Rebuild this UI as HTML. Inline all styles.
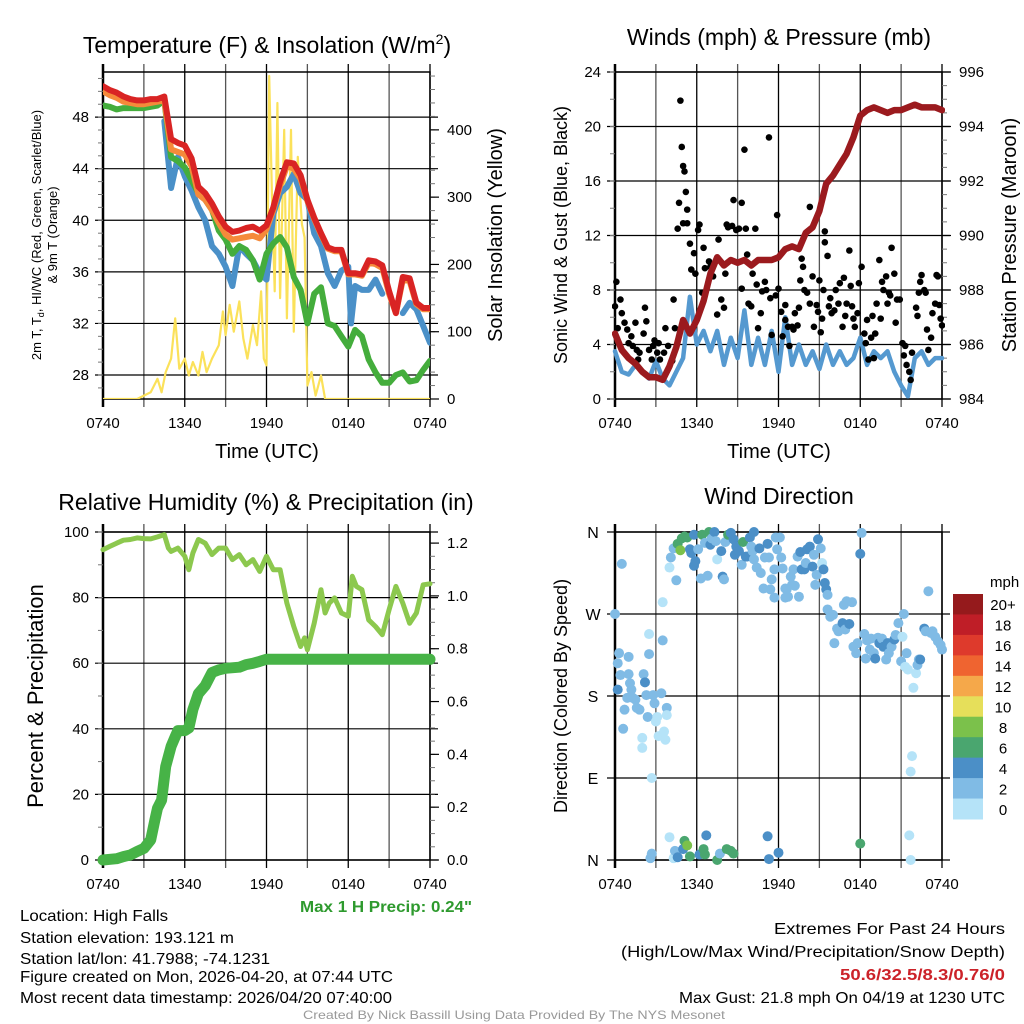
<!DOCTYPE html>
<html><head><meta charset="utf-8"><style>
html,body{margin:0;padding:0;background:#fff;}
svg{display:block;font-family:"Liberation Sans",Arial,sans-serif;}
</style></head><body>
<svg id="c" width="1024" height="1024" viewBox="0 0 1024 1024">
<g fill="#000">
<text x="267" y="53" font-size="23" text-anchor="middle">Temperature (F) &amp; Insolation (W/m<tspan font-size="14" dy="-9">2</tspan><tspan dy="9">)</tspan></text>
<text x="779" y="45" font-size="23" text-anchor="middle">Winds (mph) &amp; Pressure (mb)</text>
<text x="266" y="510" font-size="23" text-anchor="middle">Relative Humidity (%) &amp; Precipitation (in)</text>
<text x="779" y="504" font-size="23" text-anchor="middle">Wind Direction</text>
<text transform="translate(41,235) rotate(-90)" font-size="13" text-anchor="middle">2m T, T<tspan font-size="9" dy="3">d</tspan><tspan dy="-3">, HI/WC (Red, Green, Scarlet/Blue)</tspan></text>
<text transform="translate(57,235) rotate(-90)" font-size="13" text-anchor="middle">&amp; 9m T (Orange)</text>
<text transform="translate(502,235) rotate(-90)" font-size="20" text-anchor="middle">Solar Insolation (Yellow)</text>
<text x="267" y="458" font-size="20" text-anchor="middle">Time (UTC)</text>
<text transform="translate(567,235) rotate(-90)" font-size="18" text-anchor="middle">Sonic Wind &amp; Gust (Blue, Black)</text>
<text transform="translate(1016,235) rotate(-90)" font-size="20" text-anchor="middle">Station Pressure (Maroon)</text>
<text x="779" y="458" font-size="20" text-anchor="middle">Time (UTC)</text>
<text transform="translate(43,696) rotate(-90)" font-size="22" text-anchor="middle">Percent &amp; Precipitation</text>
<text transform="translate(567,696) rotate(-90)" font-size="18" text-anchor="middle">Direction (Colored By Speed)</text>
</g>
<g font-size="16" fill="#000">
<text x="300" y="912" fill="#2e9a2e" font-weight="bold" textLength="172" lengthAdjust="spacingAndGlyphs">Max 1 H Precip: 0.24"</text>
<text x="20" y="921" textLength="148" lengthAdjust="spacingAndGlyphs">Location: High Falls</text>
<text x="20" y="943" textLength="214" lengthAdjust="spacingAndGlyphs">Station elevation: 193.121 m</text>
<text x="20" y="964" textLength="250" lengthAdjust="spacingAndGlyphs">Station lat/lon: 41.7988; -74.1231</text>
<text x="20" y="982" textLength="373" lengthAdjust="spacingAndGlyphs">Figure created on Mon, 2026-04-20, at 07:44 UTC</text>
<text x="20" y="1003" textLength="372" lengthAdjust="spacingAndGlyphs">Most recent data timestamp: 2026/04/20 07:40:00</text>
<text x="774" y="934" textLength="231" lengthAdjust="spacingAndGlyphs">Extremes For Past 24 Hours</text>
<text x="621" y="957" textLength="384" lengthAdjust="spacingAndGlyphs">(High/Low/Max Wind/Precipitation/Snow Depth)</text>
<text x="840" y="980" fill="#cc2229" font-weight="bold" textLength="165" lengthAdjust="spacingAndGlyphs">50.6/32.5/8.3/0.76/0</text>
<text x="679" y="1003" textLength="326" lengthAdjust="spacingAndGlyphs">Max Gust: 21.8 mph On 04/19 at 1230 UTC</text>
<text x="303" y="1019" font-size="12" fill="#999" textLength="422" lengthAdjust="spacingAndGlyphs">Created By Nick Bassill Using Data Provided By The NYS Mesonet</text>
</g>
</svg>
<script>
// ---------- DATA ----------
const hours = [0,0.5,1,1.5,2,2.5,3,3.5,4,4.5,5,5.5,6,6.5,7,7.5,8,8.5,9,9.5,10,10.5,11,11.5,12,12.5,13,13.5,14,14.5,15,15.5,16,16.5,17,17.5,18,18.5,19,19.5,20,20.5,21,21.5,22,22.5,23,23.5,24];
const xTickLabels = ["0740","1340","1940","0140","0740"];
const tempRed = [50.4,50.1,49.9,49.6,49.4,49.3,49.3,49.4,49.4,49.6,46.3,46.0,45.8,44.8,42.6,42.1,41.3,40.3,39.5,39.1,39.2,39.4,39.5,39.2,39.6,41.0,43.0,44.5,44.4,43.5,41.6,40.2,39.0,37.9,37.7,37.7,35.9,35.9,35.8,36.9,36.8,36.5,34.5,32.8,35.6,35.5,33.6,33.2,33.2];
const tempOrange = [50.0,49.7,49.5,49.2,49.1,49.0,49.0,49.1,49.2,49.3,45.5,45.3,45.1,44.2,42.0,41.6,40.8,39.8,38.9,38.5,38.6,38.7,38.8,38.6,39.3,40.8,42.7,44.2,44.0,43.2,41.5,40.1,38.9,37.8,37.6,37.6,35.8,35.8,35.7,36.7,36.6,36.3,34.3,32.8,35.4,35.3,33.5,33.1,33.1];
const dewGreen = [48.9,48.8,48.6,48.7,48.7,48.7,48.7,48.8,48.9,49.3,44.9,44.6,44.1,43.1,42.1,41.6,40.8,39.2,38.5,37.4,38.0,37.7,36.9,35.4,37.4,38.2,38.7,37.9,35.6,34.6,32.0,34.3,34.8,32.0,31.8,31.0,30.2,31.5,31.0,29.2,28.2,27.4,27.4,28.0,28.2,27.5,27.6,28.4,29.1];
const chillHours = [4.5,5,5.5,6,6.5,7,7.5,8,8.5,9,9.5,10,10.5,11,11.5,12,12.5,13,13.5,14,14.5,15,15.5,16,16.5,17,17.5,18,18.2,18.5,19,19.5,20,20.5];
const chillBlue = [47.7,42.5,44.9,43.4,42.3,41.0,40.0,38.0,37.4,36.4,34.9,38.0,37.4,36.9,35.9,35.4,40.5,42.1,42.6,43.6,42.1,41.6,39.0,38.0,35.9,34.9,36.1,36.4,32.0,34.9,34.6,34.6,35.4,34.3];
const chillHours2 = [22,22.5,23,23.5,24];
const chillBlue2 = [32.8,33.6,33.1,31.8,30.5];
const solarHours = [0,1,2,2.5,3,3.5,4,4.3,4.6,5,5.3,5.6,6,6.3,6.6,7,7.3,7.6,8,8.5,8.8,9,9.3,9.6,10,10.3,10.6,11,11.3,11.6,11.8,12,12.2,12.4,12.6,12.8,13,13.3,13.5,13.8,14,14.3,14.6,14.8,15,15.3,15.6,16,16.3,18,21,24];
const solarValues = [0,0,0,0,5,10,30,10,40,60,120,45,60,35,55,35,70,40,60,80,130,95,140,100,145,90,60,110,80,160,60,50,480,300,160,440,150,400,120,400,100,360,260,240,20,40,5,35,0,0,0,0];
const windSonic = [3.5,2,1.8,2.5,2,1.5,2.8,1.5,1,2,3,7.5,4,5,3.5,5,2.5,4.5,3,6.5,2.5,4.5,2.5,5,2,6,2.5,4,2.5,3.5,2.2,4,2.5,3.5,2.5,3,4.5,2.5,3.5,3,3.5,2,1,0.2,3,3.5,2.5,3,3];
const pressure = [986.4,985.8,985.5,985.3,985.0,984.8,984.8,984.7,985.2,985.9,986.9,986.4,986.9,987.6,988.6,989.2,988.9,989.1,989.0,989.1,988.9,989.1,989.1,989.1,989.2,989.5,989.6,989.5,990.1,990.3,990.9,991.9,992.2,992.6,993.0,993.6,994.4,994.6,994.7,994.6,994.5,994.6,994.6,994.7,994.8,994.7,994.7,994.7,994.6];
const gustHours = [0.1,0,0.4,0.2,0.5,0.7,0.9,1,1.2,1.3,1.5,1.6,1.7,1.8,2.1,2.2,2.3,2.5,2.7,2.8,2.9,3.1,3.2,3.3,3.6,3.7,3.9,4.2,4.3,4.4,4.6,4.7,4.8,4.9,5.0,5.1,5.2,5.0,5.3,5.3,5.5,5.6,5.8,5.9,6.1,6.2,6.4,6.5,6.6,6.9,7.0,7.2,7.5,7.6,7.8,8.0,8.1,8.2,8.3,8.6,8.7,8.9,9.1,9.3,9.3,9.5,9.6,9.7,9.8,10.0,10.1,10.3,10.4,10.5,10.7,10.8,11.0,11.1,11.3,11.4,11.5,11.8,11.9,12.0,12.2,12.3,12.5,12.5,12.7,12.8,13.0,13.1,13.2,13.4,13.5,13.6,13.7,13.8,13.9,14.1,14.3,14.3,14.5,14.6,14.8,14.9,15.0,15.1,15.2,15.3,15.4,15.4,15.6,15.7,15.8,15.9,16.1,16.2,16.4,16.5,16.7,16.8,16.9,17.0,17.2,17.3,17.4,17.5,17.6,17.8,17.9,18.1,18.3,18.4,18.5,18.6,18.8,18.9,19.0,19.1,19.2,19.4,19.5,19.6,19.7,19.9,20.0,20.1,20.2,20.3,20.5,20.6,20.7,20.9,21.1,21.2,21.3,21.4,21.6,21.7,21.8,22.1,22.2,22.3,22.4,22.5,22.7,22.8,22.9,23.0,23.2,23.3,23.5,23.6,23.7,23.8,23.9,24.0];
const gustValues = [8.6,6.8,7.3,5.2,6.3,5.6,5.1,4.1,4.6,3.9,5.6,3.6,2.9,3.4,4.8,6.7,5.7,3.6,2.9,3.9,4.3,3.4,4.1,2.9,3.4,5.2,3.9,2.8,7.3,5.2,12.5,14.4,21.9,18.5,17.1,16.7,15.2,12.9,12.9,13.9,11.4,9.5,10.7,9.2,12.4,12.8,7.8,11.1,9.6,10.1,9.7,9.0,6.2,11.7,7.3,6.7,9.2,12.8,12.6,12.7,14.6,12.4,12.5,8.1,14.4,18.3,12.5,10.6,7.0,6.8,9.2,12.5,8.4,5.2,6.3,7.9,8.6,8.0,19.2,7.4,4.7,7.6,13.5,8.1,6.4,4.6,5.8,6.9,5.3,3.9,5.3,5.1,6.3,5.4,6.7,8.7,10.3,9.7,8.0,7.8,14.1,7.0,9.0,5.3,6.9,6.4,8.7,4.9,5.9,8.0,12.3,11.5,10.5,6.8,7.4,6.3,6.5,8.0,7.0,8.5,5.3,8.9,6.1,7.0,10.9,8.3,6.8,5.9,5.3,6.3,8.5,9.7,4.8,4.1,5.8,2.9,4.5,6.1,3.0,4.8,7.0,10.2,5.9,8.6,8.0,9.0,7.0,7.8,7.6,11.1,9.2,5.6,7.3,7.3,4.1,3.2,3.9,2.5,2.0,1.4,3.4,6.7,6.1,7.8,8.6,9.1,8.0,7.8,5.1,3.6,4.5,6.3,7.0,9.1,9.0,6.9,5.9,5.4];
const rhHours = [0,0.5,1,1.5,2,2.5,3,3.5,4,4.5,4.8,5,5.5,6,6.3,6.6,7,7.5,8,8.5,9,9.5,10,10.5,11,11.5,12,12.5,13,13.5,14,14.5,14.8,15,15.5,16,16.3,16.6,17,17.5,18,18.3,18.6,19,19.5,20,20.5,21,21.5,22,22.5,23,23.5,24];
const rhValues = [94.6,95.6,96.6,97.5,97.7,98.2,98.0,97.9,98.5,99.2,95.1,94.1,95.1,92.6,88.5,93.6,97.7,96.6,93.1,95.1,95.1,91.6,93.1,90.0,91.6,88.0,92.6,88.5,88.5,78.3,71.2,65.1,67.7,64.1,72.2,82.4,75.3,78.3,79.9,75.3,74.3,86.5,83.4,82.4,73.2,71.2,68.7,76.3,83.4,78.3,72.2,75.3,83.9,84.2];
const precipHours = [0,1,1.5,2,2.5,3,3.5,3.8,4,4.3,4.6,5,5.3,5.5,6,6.3,6.6,7,7.5,8,8.5,9,10,10.5,11,11.5,12,18,24];
const precipValues = [0,0.005,0.013,0.019,0.032,0.044,0.076,0.15,0.196,0.227,0.354,0.43,0.467,0.49,0.49,0.5,0.57,0.63,0.66,0.71,0.72,0.726,0.73,0.74,0.745,0.752,0.76,0.76,0.76];
const dirHours = [0,0.5,0.2,0.2,0.3,0.4,0.6,0.7,0.9,1.0,1.0,1.1,1.2,1.3,1.5,1.6,1.8,2.0,2.0,2.1,2.2,2.3,2.4,2.5,2.5,2.7,2.8,2.9,3.0,3.1,3.2,3.4,3.5,3.5,3.6,3.7,3.8,3.8,4.0,4.1,4.3,4.5,4.6,4.8,4.9,5.1,5.3,5.5,5.6,5.8,5.8,5.9,6.1,6.3,6.4,6.6,6.8,6.9,7.0,7.1,7.3,7.4,7.5,7.8,7.9,8.0,8.1,8.3,8.5,8.7,8.8,8.9,9.1,9.3,9.4,9.6,9.7,9.9,10.0,10.1,10.2,10.2,10.4,10.6,10.7,10.9,11.0,11.2,11.3,11.4,11.5,11.7,11.7,11.8,11.9,12.1,12.2,12.3,12.5,12.5,12.6,12.7,12.9,13.0,13.1,13.2,13.4,13.5,13.6,13.7,13.9,14.0,14.1,14.3,14.5,14.6,14.7,14.8,14.9,15.1,15.2,15.3,15.4,15.5,15.6,15.6,15.8,16.0,16.1,16.3,16.4,16.7,16.8,16.9,17.0,17.2,17.4,17.5,17.7,17.8,18.0,18.1,18.3,18.4,18.5,18.7,18.8,19.0,19.1,19.3,19.4,19.6,19.7,19.9,20.0,20.1,20.3,20.5,20.6,20.8,21.0,21.1,21.2,21.3,21.4,21.5,21.7,21.6,21.7,21.8,21.9,22.1,22.2,22.3,22.4,22.7,22.8,23.0,23.2,23.3,23.5,23.7,23.9,24.0,2.7,2.6,4.0,4.3,4.4,4.6,5.0,5.1,5.3,5.5,6.2,6.5,6.6,6.7,7.5,7.7,8.2,8.5,8.7,11.2,11.3,12.0,18.0];
const dirDegrees = [270,325,187,216,227,203,144,165,178,223,204,194,187,178,176,167,165,134,123,204,195,181,157,226,248,90,181,172,152,157,136,183,241,283,141,132,167,159,321,332,342,307,347,340,353,355,354,341,337,323,357,328,341,309,357,348,312,360,346,353,360,350,330,339,311,308,349,357,359,352,335,344,339,324,349,333,333,354,344,339,330,360,321,342,315,298,332,347,332,297,308,319,288,354,341,354,332,320,298,288,297,289,311,302,319,301,333,289,338,319,319,326,341,344,322,335,302,313,352,342,326,319,304,297,291,275,267,269,238,254,251,260,280,253,284,259,283,234,227,238,336,359,248,221,241,231,243,227,221,244,238,243,234,220,238,227,234,242,247,260,218,245,270,212,227,209,0,27,97,114,189,205,214,220,220,254,251,295,249,251,245,240,236,231,7,2,25,2,10,3,12,21,16,4,6,12,6,27,0,7,12,10,7,26,1,8,18];
const dirSpeeds = [2,2,4,2,2,2,2,2,2,2,2,2,2,2,2,2,2,0,0,2,4,2,2,2,0,0,2,2,0,0,0,2,2,0,0,0,2,0,0,2,2,2,6,8,6,6,6,4,4,4,4,4,2,2,6,2,2,6,4,2,4,2,0,4,4,2,2,6,4,4,4,4,4,2,6,4,4,4,2,2,2,4,2,4,2,2,2,4,2,2,2,2,2,2,2,2,2,2,2,2,2,2,2,2,2,2,2,2,4,4,4,2,4,4,4,2,2,2,4,2,0,4,4,4,2,2,2,2,2,2,2,4,2,2,2,4,2,2,2,2,4,2,2,2,2,2,2,2,4,2,4,2,4,2,4,2,2,4,2,2,2,0,2,0,2,0,0,0,0,0,0,0,2,2,4,4,2,2,2,2,2,2,2,2,2,2,0,0,2,4,4,6,8,6,4,6,6,4,6,2,6,6,6,4,4,4,6,6];
const speedBins = [0,2,4,6,8,10,12,14,16,18,20];
const speedLabels = ["0","2","4","6","8","10","12","14","16","18","20+"];
const speedColors = ["#b5e3f8","#80bbe5","#4b8fc7","#4aa66f","#7bc14b","#e6df5a","#f5a84a","#ef6430","#de3a2c","#bf1e27","#951a1c"];

// ---------- HELPERS ----------
const svg = document.getElementById('c');
const NS = 'http://www.w3.org/2000/svg';
function mk(tag, attrs, parent){ const e=document.createElementNS(NS,tag); for(const k in attrs) e.setAttribute(k,attrs[k]); (parent||svg).appendChild(e); return e; }
function panel(L,R,T,B){ return {L,R,T,B, x:h=>L+h/24*(R-L)}; }
function yScale(p,min,max){ return v=>p.B-(v-min)/(max-min)*(p.B-p.T); }
function linePath(xs,ys,fx,fy){ return xs.map((h,i)=>(i?'L':'M')+fx(h).toFixed(1)+','+fy(ys[i]).toFixed(1)).join(''); }

function frame(p, g, hLines){
  for(let h=0;h<=24;h+=3){
    const l=mk('line',{x1:p.x(h),x2:p.x(h),y1:p.T-8,y2:p.B+8,stroke:(h%6===0?'#000':'#555'),'stroke-width':1.3},g);
    
    
  }
  hLines.forEach(y=>{
    const l=mk('line',{x1:p.L-8,x2:p.R+8,y1:y,y2:y,stroke:'#000','stroke-width':1.2},g);
    
    
  });
  const r=mk('rect',{x:p.L,y:p.T,width:p.R-p.L,height:p.B-p.T,fill:'none',stroke:'#000','stroke-width':1.5},g);
  
  
  mk('line',{x1:p.L,x2:p.L,y1:p.T-8,y2:p.B+8,stroke:'#000','stroke-width':2.5},g);
  xTickLabels.forEach((t,i)=>{
    const tx=mk('text',{x:p.x(i*6),y:p.B+29,'font-size':15,'text-anchor':'middle'},g);
    
    
    tx.textContent=t;
  });
}
function leftTicks(p,g,vals,fy,fmt,minor){
  minor.forEach(v=>mk('line',{x1:p.L-5,x2:p.L,y1:fy(v),y2:fy(v),stroke:'#777','stroke-width':1},g));
  vals.forEach(v=>{
    const t=mk('text',{x:p.L-14,y:fy(v)+5,'font-size':15,'text-anchor':'end'},g);
    
    
    t.textContent=fmt(v);
  });
}
function rightTicks(p,g,vals,fy,fmt,minor){
  minor.forEach(v=>mk('line',{x1:p.R,x2:p.R+5,y1:fy(v),y2:fy(v),stroke:'#777','stroke-width':1},g));
  vals.forEach(v=>{
    mk('line',{x1:p.R,x2:p.R+9,y1:fy(v),y2:fy(v),stroke:'#000','stroke-width':1.2},g);
    const t=mk('text',{x:p.R+17,y:fy(v)+5,'font-size':15},g);
    
    
    t.textContent=fmt(v);
  });
}
function range(a,b,s){ const r=[]; for(let v=a; v<=b+1e-9; v+=s) r.push(+v.toFixed(4)); return r; }

// ---------- PANEL 1: Temperature ----------
(function(){
  const p=panel(103,430,72,399);
  const g=mk('g',{});
  
  
  const fy=yScale(p,26.14,51.5), fr=yScale(p,0,486);
  const clip=mk('clipPath',{id:'cp1'},g); mk('rect',{x:p.L,y:p.T,width:p.R-p.L,height:p.B-p.T},clip);
  frame(p,g,range(28,48,4).map(fy));
  leftTicks(p,g,range(28,48,4),fy,v=>v,range(27,51,1));
  rightTicks(p,g,range(0,400,100),fr,v=>v,range(0,480,20));
  const d=mk('g',{'clip-path':'url(#cp1)',fill:'none','stroke-linejoin':'round','stroke-linecap':'round'},g);
  const sol=mk('path',{d:linePath(solarHours,solarValues,p.x,fr),stroke:'#fbe15a','stroke-width':2.2},d);
   
  const c1=mk('path',{d:linePath(chillHours,chillBlue,p.x,fy),stroke:'#4a90c8','stroke-width':6},d);
   
  const c2=mk('path',{d:linePath(chillHours2,chillBlue2,p.x,fy),stroke:'#4a90c8','stroke-width':6},d);
   
  const gr=mk('path',{d:linePath(hours,dewGreen,p.x,fy),stroke:'#44ad3c','stroke-width':6},d);
   
  const o=mk('path',{d:linePath(hours,tempOrange,p.x,fy),stroke:'#f58a3a','stroke-width':6},d);
   
  const r=mk('path',{d:linePath(hours,tempRed,p.x,fy),stroke:'#d92424','stroke-width':6},d);
   
})();

// ---------- PANEL 2: Wind & Pressure ----------
(function(){
  const p=panel(615,942,72,399);
  const g=mk('g',{});
  
  
  const fy=yScale(p,0,24), fr=yScale(p,984,996);
  const clip=mk('clipPath',{id:'cp2'},g); mk('rect',{x:p.L-3,y:p.T-3,width:p.R-p.L+6,height:p.B-p.T+6},clip);
  frame(p,g,range(0,24,4).map(fy));
  leftTicks(p,g,range(0,24,4),fy,v=>v,range(0,24,2));
  rightTicks(p,g,range(984,996,2),fr,v=>v,range(984,996,0.5));
  const d=mk('g',{'clip-path':'url(#cp2)',fill:'none','stroke-linejoin':'round','stroke-linecap':'round'},g);
  const w=mk('path',{d:linePath(hours,windSonic,p.x,fy),stroke:'#5599d0','stroke-width':4.5},d);
   
  gustHours.forEach((h,i)=>{
    const c=mk('circle',{cx:p.x(h),cy:fy(gustValues[i]),r:3.3,fill:'#000'},d);
    
    
  });
  const pr=mk('path',{d:linePath(hours,pressure,p.x,fr),stroke:'#9b1a1e','stroke-width':6.5},d);
   
})();

// ---------- PANEL 3: RH & Precip ----------
(function(){
  const p=panel(103,430,532,860);
  const g=mk('g',{});
  
  
  const fy=yScale(p,0,100), fr=yScale(p,0,1.242);
  const clip=mk('clipPath',{id:'cp3'},g); mk('rect',{x:p.L-6,y:p.T,width:p.R-p.L+12,height:p.B-p.T+6},clip);
  frame(p,g,range(0,100,20).map(fy));
  leftTicks(p,g,range(0,100,20),fy,v=>v,range(0,100,10));
  rightTicks(p,g,range(0,1.2,0.2),fr,v=>v.toFixed(1),range(0,1.2,0.05));
  const d=mk('g',{'clip-path':'url(#cp3)',fill:'none','stroke-linejoin':'round','stroke-linecap':'round'},g);
  const rh=mk('path',{d:linePath(rhHours,rhValues,p.x,fy),stroke:'#8cc84e','stroke-width':5},d);
   
  const pc=mk('path',{d:linePath(precipHours,precipValues,p.x,fr),stroke:'#47b347','stroke-width':11},d);
   
})();

// ---------- PANEL 4: Wind Direction ----------
(function(){
  const p=panel(615,942,532,860);
  const g=mk('g',{});
  
  
  const fy=yScale(p,0,360);
  frame(p,g,[0,90,180,270,360].map(fy));
  const dirLabels=["N","E","S","W","N"];
  [0,90,180,270,360].forEach((v,i)=>{
    const t=mk('text',{x:p.L-22,y:fy(v)+6,'font-size':16,'text-anchor':'middle'},g);
    
    
    t.textContent=dirLabels[i];
  });
  function color(s){ let k=0; for(let i=0;i<speedBins.length;i++) if(s>=speedBins[i]) k=i; return speedColors[k]; }
  dirHours.forEach((h,i)=>{
    const c=mk('circle',{cx:p.x(h),cy:fy(dirDegrees[i]),r:5,fill:color(dirSpeeds[i])},g);
    
    
  });
  const cb=mk('g',{},g);
  
  
  const cbTop=594, cbH=225/11;
  const u=mk('text',{x:990,y:587,'font-size':15},cb); u.textContent='mph';
   
  for(let i=0;i<speedColors.length;i++){
    const k=speedColors.length-1-i;
    const r=mk('rect',{x:953,y:cbTop+i*cbH,width:30,height:cbH+0.5,fill:speedColors[k]},cb);
    
    
    const t=mk('text',{x:1003,y:cbTop+i*cbH+cbH/2+6,'font-size':15,'text-anchor':'middle'},cb);
    
    
    t.textContent=speedLabels[k];
  }
})();
</script>
</body></html>
